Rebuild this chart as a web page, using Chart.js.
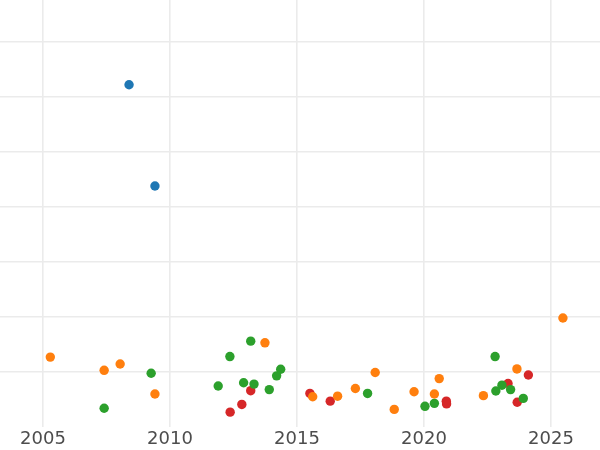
<!DOCTYPE html>
<html>
<head>
<meta charset="utf-8">
<script src="https://cdn.jsdelivr.net/npm/chart.js@4/dist/chart.umd.min.js"></script>
<style>
  body { margin: 0; background: #fff; }
  #wrap { width: 600px; height: 450px; }
</style>
</head>
<body>
<div id="wrap"><canvas id="chart_1"></canvas></div>
<script>
// values (x = year, y = arbitrary units, one grid step = 1)
var blueX = [2008.39, 2009.41];
var blueY = [6.22, 4.38];

var orangeX = [2005.29, 2007.41, 2008.04, 2009.41, 2013.74, 2015.62, 2016.60, 2017.30, 2018.08, 2018.83,
               2019.61, 2020.41, 2020.60, 2022.34, 2023.66, 2025.47];
var orangeY = [1.27, 1.03, 1.145, 0.60, 1.53, 0.55, 0.56, 0.70, 0.99, 0.32,
               0.64, 0.60, 0.88, 0.57, 1.055, 1.98];

var greenX = [2007.41, 2009.26, 2011.90, 2012.36, 2012.90, 2013.18, 2013.31, 2013.91, 2014.20, 2014.36,
              2017.78, 2020.04, 2020.41, 2022.80, 2022.83, 2023.07, 2023.41, 2023.91];
var greenY = [0.34, 0.976, 0.745, 1.28, 0.805, 1.56, 0.78, 0.68, 0.93, 1.05,
              0.61, 0.376, 0.43, 1.28, 0.655, 0.76, 0.68, 0.52];

var redX = [2012.37, 2012.83, 2013.18, 2015.51, 2016.31, 2020.88, 2020.89, 2023.31, 2023.67, 2024.11];
var redY = [0.27, 0.41, 0.66, 0.61, 0.47, 0.47, 0.42, 0.79, 0.45, 0.945];

var xTicks = [2005, 2010, 2015, 2020, 2025];
var yTicks = [1, 2, 3, 4, 5, 6, 7];

function toPoints(xs, ys) {
  var pts = [];
  for (var i = 0; i < xs.length; i++) {
    pts.push({x: xs[i], y: ys[i]});
  }
  return pts;
}

function makeSet(xs, ys, color) {
  return {
    data: toPoints(xs, ys),
    backgroundColor: color,
    borderColor: color,
    borderWidth: 0,
    pointRadius: 4.7,
    pointHoverRadius: 4.7
  };
}

var ctx_1 = document.getElementById("chart_1").getContext('2d');
var chart_1 = new Chart(ctx_1, {
  type: 'scatter',
  data: {
    datasets: [
      makeSet(blueX, blueY, '#1f77b4'),
      makeSet(orangeX, orangeY, '#ff7f0e'),
      makeSet(greenX, greenY, '#2ca02c'),
      makeSet(redX, redY, '#d62728')
    ]
  },
  options: {
    responsive: true,
    maintainAspectRatio: false,
    animation: false,
    layout: { padding: 0, autoPadding: false },
    plugins: {
      legend: { display: false },
      tooltip: { enabled: false }
    },
    scales: {
      x: {
        type: 'linear',
        min: 2003.31,
        max: 2026.93,
        afterBuildTicks: function(axis) {
          axis.ticks = xTicks.map(function(v) { return {value: v}; });
        },
        afterFit: function(axis) {
          axis.height = 23;
        },
        grid: { color: '#ebebeb', lineWidth: 1.6, drawTicks: false },
        border: { display: false },
        ticks: {
          padding: 2,
          color: '#4d4d4d',
          font: { family: 'DejaVu Sans', size: 18 },
          callback: function(v) { return String(v); }
        }
      },
      y: {
        type: 'linear',
        min: 0,
        max: 7.76,
        afterBuildTicks: function(axis) {
          axis.ticks = yTicks.map(function(v) { return {value: v}; });
        },
        grid: { color: '#ebebeb', lineWidth: 1.6, drawTicks: false },
        border: { display: false },
        ticks: { display: false }
      }
    }
  }
});
</script>
</body>
</html>
